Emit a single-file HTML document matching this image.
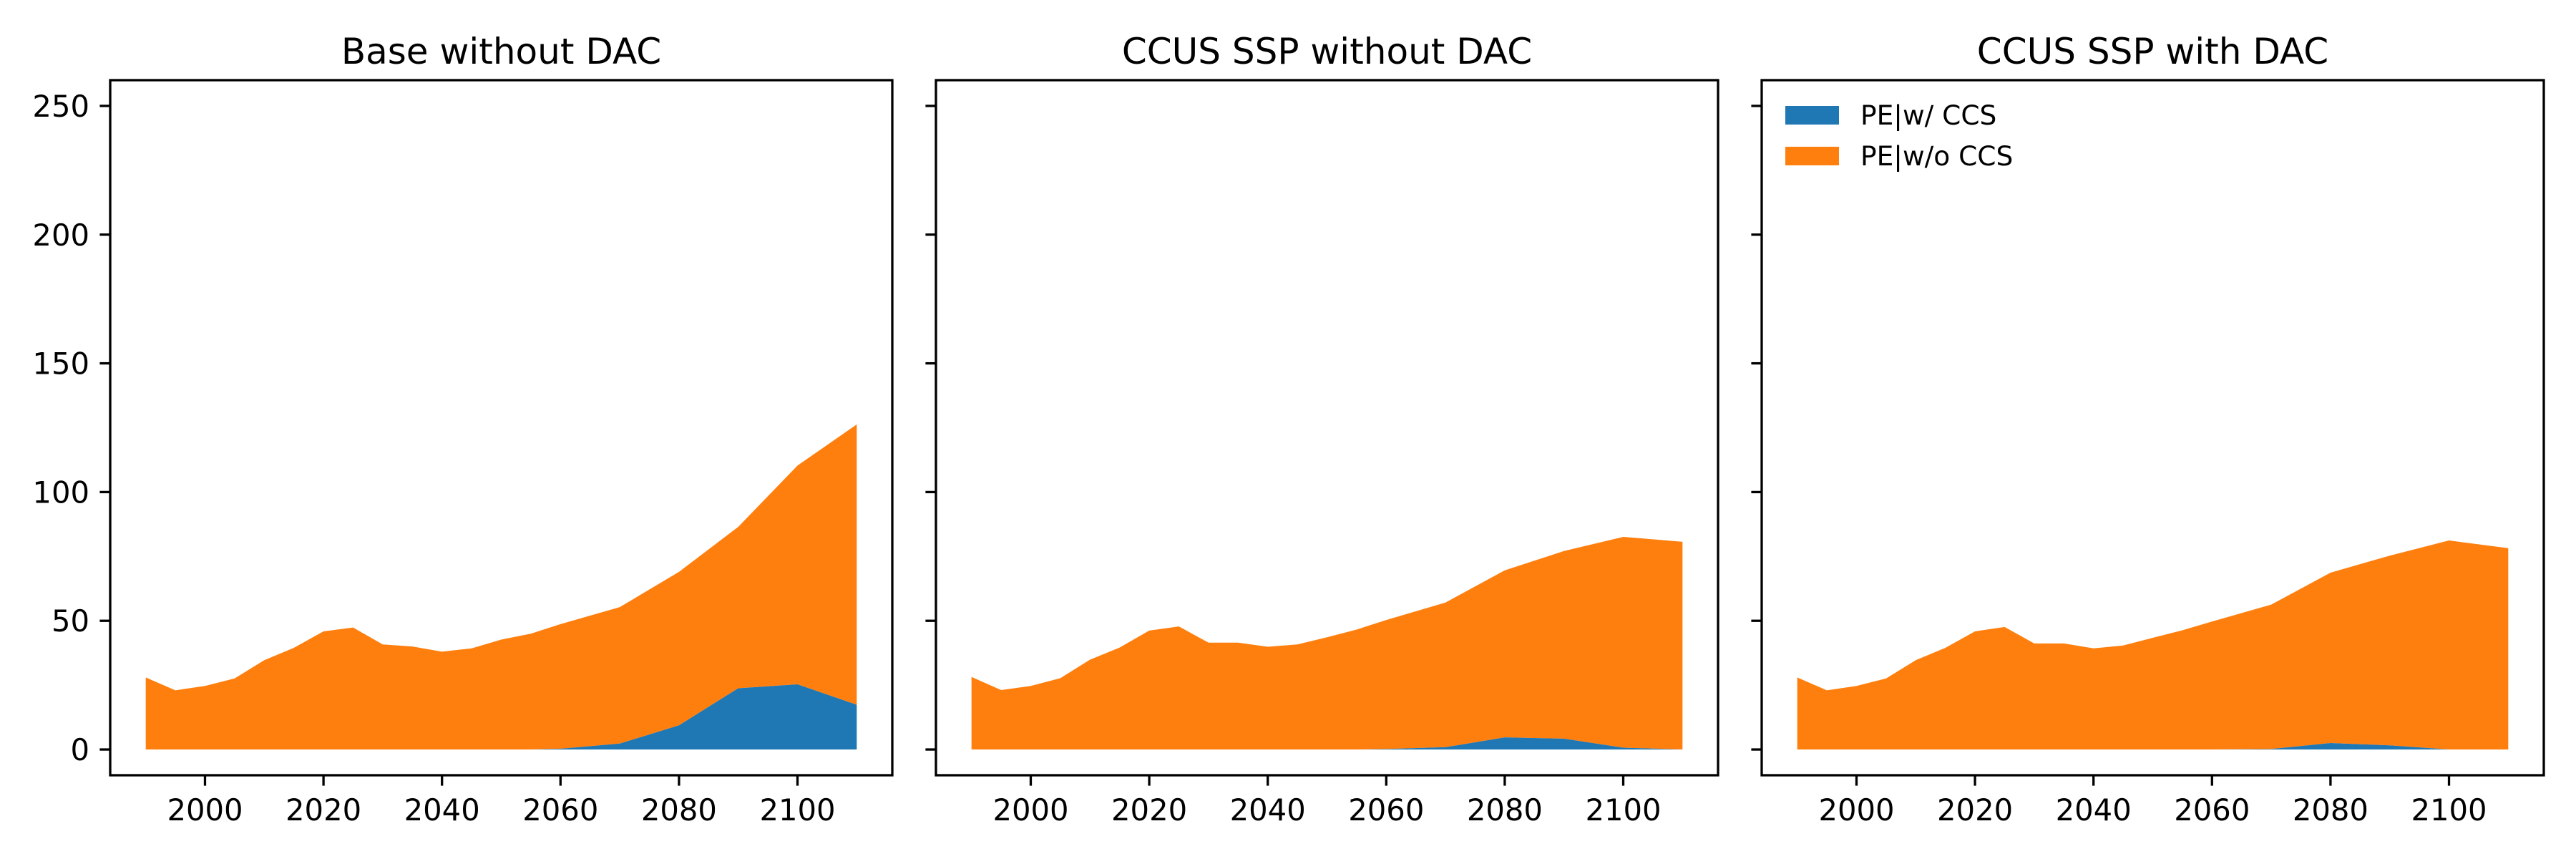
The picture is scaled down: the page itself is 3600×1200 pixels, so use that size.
<!DOCTYPE html>
<html><head><meta charset="utf-8"><style>
html,body{margin:0;padding:0;background:#fff;}
svg{display:block;font-family:"DejaVu Sans","Liberation Sans",sans-serif;}
</style></head><body>
<svg id="fig" width="3600" height="1200" viewBox="0 0 3600 1200" xmlns="http://www.w3.org/2000/svg"></svg>
<script>
const years = [1990,1995,2000,2005,2010,2015,2020,2025,2030,2035,2040,2045,2050,2055,2060,2070,2080,2090,2100,2110];
const panelTitles = ["Base without DAC","CCUS SSP without DAC","CCUS SSP with DAC"];
const totalBase = [28,23,24.7,27.6,34.7,39.5,45.9,47.4,40.8,40,38,39.3,42.7,45,48.7,55.3,69,86.5,110.3,126.3];
const ccsBase = [0,0,0,0,0,0,0,0,0,0,0,0,0,0,0.3,2.3,9.4,23.8,25.3,17.4];
const totalNoDac = [28.2,23.1,24.7,27.7,34.9,39.6,46.2,47.8,41.5,41.5,39.9,40.8,43.6,46.6,50.3,57.1,69.6,77.1,82.6,80.7];
const ccsNoDac = [0,0,0,0,0,0,0,0,0,0,0,0,0,0,0.2,0.9,4.7,4.2,0.7,0];
const totalDac = [28,23,24.7,27.6,34.7,39.5,45.9,47.6,41.2,41.2,39.3,40.4,43.4,46.3,49.7,56.3,68.7,75.3,81.2,78.2];
const ccsDac = [0,0,0,0,0,0,0,0,0,0,0,0,0,0,0,0.2,2.5,1.6,0,0];
const yTicks = [0,50,100,150,200,250];
const xTicks = [2000,2020,2040,2060,2080,2100];
const legendLabels = ["PE|w/ CCS","PE|w/o CCS"];

const NS="http://www.w3.org/2000/svg";
const svg=document.getElementById('fig');
const BLUE="#1f77b4", ORANGE="#ff7f0e";
const panelLefts=[154,1308,2462], PW=1093, TOP=112, BOT=1083;
const XMIN=1984, XMAX=2116, YMIN=-10, YMAX=260;
function mk(tag,attrs,parent){const e=document.createElementNS(NS,tag);for(const k in attrs)e.setAttribute(k,attrs[k]);(parent||svg).appendChild(e);return e;}
const totals=[totalBase,totalNoDac,totalDac], ccs=[ccsBase,ccsNoDac,ccsDac];

panelTitles.forEach((t,p)=>{
  const L=panelLefts[p];
  const sx=v=>L+(v-XMIN)/(XMAX-XMIN)*PW;
  const sy=v=>BOT-(v-YMIN)/(YMAX-YMIN)*(BOT-TOP);
  const g=mk('g',{});
  
  
  // orange (stacked between ccs and total)
  let d='M'+years.map((y,i)=>sx(y)+','+sy(totals[p][i])).join('L');
  for(let i=years.length-1;i>=0;i--) d+='L'+sx(years[i])+','+sy(ccs[p][i]);
  const o=mk('path',{d:d+'Z',fill:ORANGE},g);
  
  
  let d2='M'+years.map((y,i)=>sx(y)+','+sy(ccs[p][i])).join('L');
  for(let i=years.length-1;i>=0;i--) d2+='L'+sx(years[i])+','+sy(0);
  const b=mk('path',{d:d2+'Z',fill:BLUE},g);
  
  
  // frame
  const fr=mk('rect',{x:L,y:TOP,width:PW,height:BOT-TOP,fill:'none',stroke:'#000','stroke-width':3.3},g);
  
  
  // title
  const ti=mk('text',{x:L+PW/2,y:89,'text-anchor':'middle','font-size':50,fill:'#000'},g);
  ti.textContent=t;
  
  
  yTicks.forEach(v=>{
    const y=sy(v);
    const tk=mk('line',{x1:L,x2:L-14.6,y1:y,y2:y,stroke:'#000','stroke-width':3.3},g);
    
    
    if(p===0){
      const tl=mk('text',{x:L-29,y:y+15,'text-anchor':'end','font-size':41.7,fill:'#000'},g);
      tl.textContent=v;
      
      
    }
  });
  xTicks.forEach(v=>{
    const x=sx(v);
    const tk=mk('line',{x1:x,x2:x,y1:BOT,y2:BOT+14.6,stroke:'#000','stroke-width':3.3},g);
    
    
    const tl=mk('text',{x:x,y:1146,'text-anchor':'middle','font-size':41.7,fill:'#000'},g);
    tl.textContent=v;
    
    
  });
});
// legend in panel 3
const lg=mk('g',{});


[BLUE,ORANGE].forEach((c,i)=>{
  const yy=148+i*57;
  const r=mk('rect',{x:2495,y:yy,width:75,height:26,fill:c},lg);
  
  
  const t=mk('text',{x:2600,y:yy+26,'font-size':37.5,fill:'#000'},lg);
  t.textContent=legendLabels[i];
  
  
});
</script>
</body></html>
